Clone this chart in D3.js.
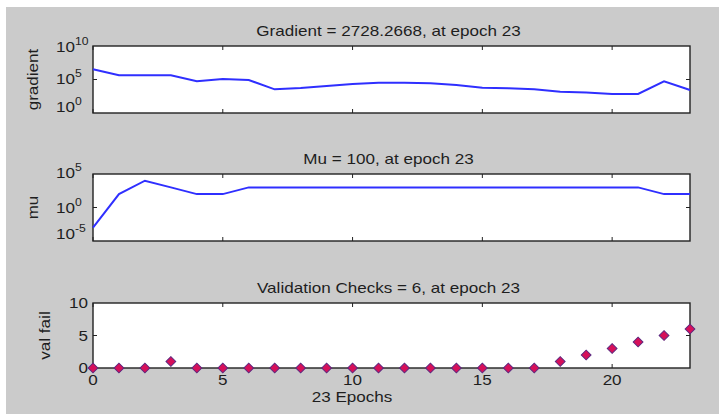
<!DOCTYPE html>
<html>
<head>
<meta charset="utf-8">
<script src="https://cdn.jsdelivr.net/npm/d3@7"></script>
<style>
  html, body { margin: 0; padding: 0; background: #ffffff; }
  svg { display: block; }
  text { font-family: Arial, "Liberation Sans", Helvetica, sans-serif; fill: #1e1e1e; }
</style>
</head>
<body>
<svg id="chart" width="719" height="414"></svg>
<script>
// Training state: gradient, mu and validation failures per epoch
const epochs = d3.range(0, 24);
const gradientValues = [3.3e6, 4.3e5, 4.3e5, 4.2e5, 5.4e4, 1.2e5, 8.5e4, 3.4e3, 5.4e3, 1.1e4, 2.1e4, 3.3e4,
                        3.3e4, 2.7e4, 1.5e4, 6.0e3, 4.8e3, 3.4e3, 1.5e3, 1.1e3, 690, 690, 5.4e4, 2728.2668];
const muValues = [0.001, 100, 10000, 1000, 100, 100, 1000, 1000, 1000, 1000, 1000, 1000,
                  1000, 1000, 1000, 1000, 1000, 1000, 1000, 1000, 1000, 1000, 100, 100];
const valFailValues = [0, 0, 0, 1, 0, 0, 0, 0, 0, 0, 0, 0, 0, 0, 0, 0, 0, 0, 1, 2, 3, 4, 5, 6];
const xTicks = [0, 5, 10, 15, 20];
const panelTitles = ["Gradient = 2728.2668, at epoch 23", "Mu = 100, at epoch 23", "Validation Checks = 6, at epoch 23"];
const yLabels = ["gradient", "mu", "val fail"];
const xLabel = "23 Epochs";

const svg = d3.select("#chart");
const SX = 1.22;           // horizontal stretch of the lettering
const lineColor = "#2f2fff";

// figure background
svg.append("rect").attr("x", 6).attr("y", 7).attr("width", 713).attr("height", 407).attr("fill", "#cbcbcb");

const x = d3.scaleLinear().domain([0, 23]).range([93, 690]);

function stext(g, px, py, str, size, anchor, weight) {
  return g.append("text")
    .attr("transform", `translate(${px},${py}) scale(${SX},1)`)
    .attr("text-anchor", anchor || "middle")
    .attr("font-size", size)
    .attr("font-weight", weight || "normal")
    .text(str);
}

function powLabel(g, px, py, exp) {
  const t = g.append("text")
    .attr("transform", `translate(${px},${py}) scale(${SX},1)`)
    .attr("font-size", 14);
  t.append("tspan").text("10");
  t.append("tspan").attr("font-size", 10).attr("dy", -7).text(exp);
}

function panel(top, bottom, y, opts) {
  const g = svg.append("g");
  const [x0, x1] = x.range();
  g.append("rect").attr("x", x0).attr("y", top).attr("width", x1 - x0).attr("height", bottom - top)
    .attr("fill", "#ffffff");
  // tick marks on all four sides, pointing inward
  xTicks.forEach(v => {
    g.append("line").attr("x1", x(v)).attr("x2", x(v)).attr("y1", bottom).attr("y2", bottom - 4).attr("stroke", "#222");
    g.append("line").attr("x1", x(v)).attr("x2", x(v)).attr("y1", top).attr("y2", top + 4).attr("stroke", "#222");
  });
  opts.yTicks.forEach(v => {
    g.append("line").attr("x1", x0).attr("x2", x0 + 4).attr("y1", y(v)).attr("y2", y(v)).attr("stroke", "#222");
    g.append("line").attr("x1", x1).attr("x2", x1 - 4).attr("y1", y(v)).attr("y2", y(v)).attr("stroke", "#222");
  });
  g.append("rect").attr("x", x0).attr("y", top).attr("width", x1 - x0).attr("height", bottom - top)
    .attr("fill", "none").attr("stroke", "#222").attr("stroke-width", 1.4);
  stext(g, (x0 + x1) / 2 - 3, top - 10, opts.title, 14);
  g.append("text")
    .attr("transform", `translate(${opts.ylabX},${(top + bottom) / 2}) rotate(-90) scale(${SX},1)`)
    .attr("text-anchor", "middle").attr("font-size", 14).text(opts.ylab);
  return g;
}

// Panel 1: gradient (log scale)
const yG = d3.scaleLog().domain([1, 1e10]).range([113, 46]);
const g1 = panel(46, 113, yG, { yTicks: [1e5], title: panelTitles[0], ylab: yLabels[0], ylabX: 38 });
[[1e10, "10", 6], [1e5, "5", 4], [1, "0", -1]].forEach(([v, e, dy]) => powLabel(g1, 56, yG(v) + dy, e));
g1.append("path").datum(gradientValues)
  .attr("fill", "none").attr("stroke", lineColor).attr("stroke-width", 2)
  .attr("d", d3.line().x((d, i) => x(epochs[i])).y(d => yG(d)));

// Panel 2: mu (log scale)
const yM = d3.scaleLog().domain([1e-5, 1e5]).range([241, 174]);
const g2 = panel(174, 241, yM, { yTicks: [1], title: panelTitles[1], ylab: yLabels[1], ylabX: 38 });
[[1e5, "5", 4], [1, "0", 5], [1e-5, "-5", -2]].forEach(([v, e, dy]) => powLabel(g2, 56, yM(v) + dy, e));
g2.append("path").datum(muValues)
  .attr("fill", "none").attr("stroke", lineColor).attr("stroke-width", 2)
  .attr("d", d3.line().x((d, i) => x(epochs[i])).y(d => yM(d)));

// Panel 3: validation failures (linear)
const yV = d3.scaleLinear().domain([0, 10]).range([368, 303]);
const g3 = panel(303, 368, yV, { yTicks: [5], title: panelTitles[2], ylab: yLabels[2], ylabX: 50 });
[0, 5, 10].forEach(v => stext(g3, 88, yV(v) + 5, String(v), 14, "end"));
xTicks.forEach(v => stext(g3, x(v), 385, String(v), 14));
stext(g3, 352, 402, xLabel, 14);
const diamond = d3.symbol().type(d3.symbolSquare).size(48);
g3.selectAll("path.pt").data(valFailValues).join("path")
  .attr("class", "pt")
  .attr("transform", (d, i) => `translate(${x(epochs[i])},${yV(d)}) rotate(45)`)
  .attr("d", diamond)
  .attr("fill", "#d6105a").attr("stroke", "#5b2a80").attr("stroke-width", 1);
</script>
</body>
</html>
